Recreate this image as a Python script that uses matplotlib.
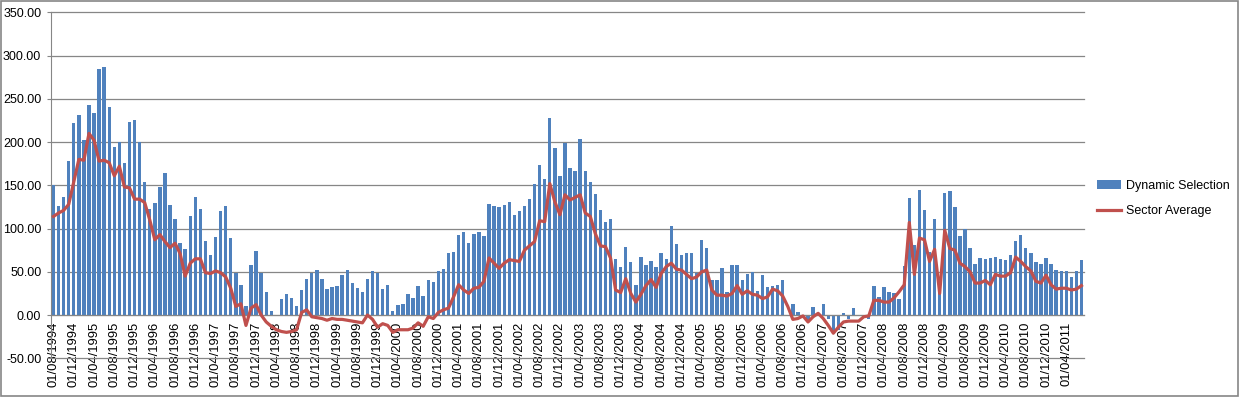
import numpy as np, pandas as pd
import matplotlib; matplotlib.use("Agg"); import matplotlib.pyplot as plt
from matplotlib.patches import Rectangle

plt.rcParams['font.family'] = ['Liberation Sans', 'DejaVu Sans']
plt.rcParams['font.size'] = 9

# monthly, 01/08/1994 .. 01/07/2011
months = pd.date_range("1994-08-01", periods=204, freq="MS")
labels = [d.strftime("%d/%m/%Y") for d in months]

dynamic = [150, 126, 136, 178, 222, 231, 202, 243, 234, 284,
           287, 240, 194, 200, 176, 223, 225, 200, 154, 123,
           130, 148, 164, 127, 111, 83, 76, 115, 136, 123,
           86, 69, 90, 120, 126, 89, 49, 35, 11, 58,
           74, 49, 27, 5, -1, 19, 24, 20, 10, 29,
           42, 49, 52, 42, 30, 33, 34, 46, 52, 37,
           31, 27, 42, 51, 49, 30, 35, 5, 12, 13,
           24, 20, 34, 22, 40, 38, 51, 53, 72, 73,
           93, 96, 83, 94, 96, 91, 128, 126, 125, 127,
           131, 116, 120, 126, 134, 152, 173, 157, 228, 193,
           161, 199, 170, 166, 203, 166, 154, 140, 121, 108,
           111, 65, 55, 79, 61, 35, 67, 58, 63, 56,
           72, 65, 103, 82, 70, 72, 72, 49, 87, 78,
           41, 41, 54, 27, 58, 58, 41, 48, 50, 28,
           46, 32, 34, 35, 41, 0, 13, 3, 0, -6,
           9, 0, 13, -4, -19, -17, 2, -5, 8, 0,
           -2, -5, 34, 21, 33, 27, 25, 18, 57, 135,
           81, 145, 121, 73, 111, 27, 141, 143, 125, 91,
           99, 77, 59, 66, 65, 66, 67, 65, 64, 69,
           86, 92, 78, 72, 61, 59, 66, 59, 52, 51,
           51, 44, 51, 64]

sector = [114, 118, 121, 128, 154, 180, 179, 210, 202, 178,
          179, 176, 161, 172, 148, 147, 134, 134, 130, 110,
          87, 93, 85, 78, 83, 71, 45, 60, 65, 65,
          49, 48, 51, 49, 44, 31, 10, 13, -12, 8,
          12, 0, -8, -13, -17, -19, -20, -19, -17, 3,
          6, -2, -3, -4, -6, -4, -5, -5, -6, -7,
          -8, -9, 0, -5, -14, -10, -12, -20, -17, -17,
          -17, -15, -9, -13, -2, -4, 3, 6, 8, 21,
          35, 29, 25, 31, 32, 39, 66, 60, 54, 60,
          64, 63, 62, 75, 80, 85, 109, 108, 152, 131,
          116, 139, 133, 136, 139, 118, 114, 94, 80, 79,
          66, 29, 26, 42, 25, 15, 24, 34, 41, 32,
          48, 56, 60, 53, 52, 47, 42, 44, 50, 52,
          29, 23, 23, 22, 25, 34, 24, 28, 24, 23,
          19, 21, 30, 28, 22, 10, -5, -4, -1, -8,
          -2, 2, -4, -12, -21, -14, -8, -7, -7, -7,
          -2, -1, 17, 17, 15, 15, 20, 27, 35, 107,
          47, 89, 87, 62, 76, 25, 98, 77, 75, 60,
          56, 50, 37, 37, 40, 35, 47, 45, 45, 49,
          67, 62, 56, 51, 39, 37, 46, 35, 30, 31,
          31, 29, 30, 34]

assert len(dynamic) == len(sector) == len(labels)

W, H = 1239, 397
fig = plt.figure(figsize=(W/100, H/100), dpi=100)
ax = fig.add_axes([51/W, (H-358.3)/H, (1084-51)/W, (358.3-12.3)/H])

# spine position first: it resets the tick objects
for s in ["top", "right"]:
    ax.spines[s].set_visible(False)
ax.spines["bottom"].set_position(("data", 0))
ax.spines["bottom"].set_color("#868686")
ax.spines["left"].set_color("#868686")

x = np.arange(len(labels))
hb = ax.bar(x, dynamic, width=0.67, color="#4F81BD", label="Dynamic Selection", zorder=2)
hl, = ax.plot(x, sector, color="#C0504D", lw=2.3, label="Sector Average", zorder=3)

ax.set_xlim(-0.5, len(labels)-0.5)
ax.set_ylim(-50, 350)
yt = np.arange(-50, 351, 50)
ax.set_yticks(yt)
ax.set_yticklabels([f"{v:.2f}" for v in yt])
ax.set_xticks(x[::4])
ax.set_xticklabels(labels[::4])
ax.tick_params(axis="x", length=0, pad=5, labelrotation=90, labelsize=9.4)
ax.tick_params(axis="y", length=3, color="#868686", pad=4)

ax.grid(axis="y", color="#868686", lw=0.9)
for g in ax.get_ygridlines():
    g.set_clip_on(False)
ax.set_axisbelow(True)

ax.legend([hb, hl], ["Dynamic Selection", "Sector Average"], loc="center left",
          bbox_to_anchor=(1086/W, 0.50), bbox_transform=fig.transFigure,
          frameon=False, handlelength=1.9, handletextpad=0.4, labelspacing=1.1)

fig.patches.append(Rectangle((0.0008, 0.0025), 0.9984, 0.995, transform=fig.transFigure,
                             fill=False, edgecolor="#868686", lw=1.2))
fig.savefig("out.png", dpi=100)
